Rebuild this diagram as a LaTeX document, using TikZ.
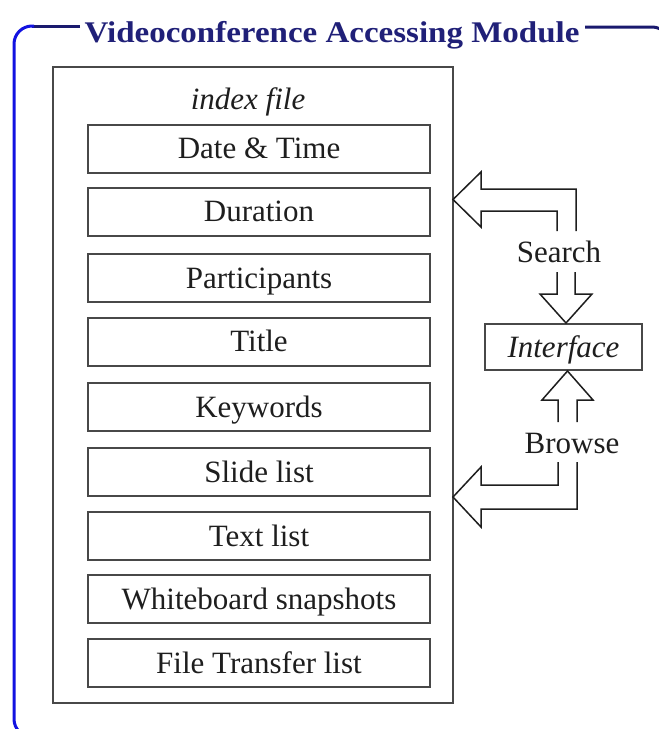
\documentclass[tikz,border=0pt]{standalone}
\usepackage{fontspec}
\setmainfont{Liberation Serif}
\definecolor{framenavy}{RGB}{26,26,110}
\definecolor{frameblue}{RGB}{18,18,225}
\definecolor{titleblue}{RGB}{32,32,120}
\definecolor{boxgray}{RGB}{72,72,72}
\definecolor{inkgray}{RGB}{30,30,30}
\begin{document}
\begin{tikzpicture}[x=1pt,y=-1pt,
  bodytext/.style={font=\fontsize{31}{36}\selectfont, text=inkgray, text height=20pt, text depth=0pt, inner sep=0pt},
  field/.style={bodytext, draw=boxgray, line width=2pt, minimum width=342pt, minimum height=48pt},
  container/.style={draw=boxgray, line width=2pt, minimum width=400pt, minimum height=636pt, inner sep=0pt},
  blockarrow/.style={draw=inkgray, line width=1.5pt, line join=miter},
  modframe/.style={line width=3pt}]

\useasboundingbox (0,0) rectangle (659,729);
\clip (0,0) rectangle (659,729);

% module frame: rounded border broken by the title
\draw[modframe, framenavy] (80,26) -- (32,26);
\draw[modframe, frameblue, rounded corners=18pt] (34,26) -- (14,26) -- (14,737) -- (40,737);
\draw[modframe, framenavy, rounded corners=18pt] (585,27) -- (670,27) -- (670,760);
\node[font=\fontsize{30}{34}\selectfont\bfseries, text=titleblue, text height=20pt, text depth=0pt, inner sep=0pt]
  (title) at (332,32) {\scalebox{1.1}[1]{Videoconference Accessing Module}};

% index file and its fields
\node[container] (index) at (253,385) {};
\node[bodytext, font=\fontsize{31}{36}\selectfont\itshape] (idxlabel) at (248,99) {index file};

\node[field] (date)    at (259,148.5) {Date \& Time};
\node[field] (dur)     at (259,211.5) {Duration};
\node[field] (part)    at (259,278)   {Participants};
\node[field] (ttl)     at (259,341.5) {Title};
\node[field] (keyw)    at (259,407)   {Keywords};
\node[field] (slides)  at (259,472)   {Slide list};
\node[field] (texts)   at (259,536)   {Text list};
\node[field] (wboard)  at (259,599)   {Whiteboard snapshots};
\node[field] (ftrans)  at (259,663)   {File Transfer list};

% interface and its two access modes
\node[bodytext, font=\fontsize{31}{36}\selectfont\itshape, draw=boxgray, line width=2pt,
  minimum width=157pt, minimum height=46pt] (iface) at (563.5,347) {Interface};
\node[bodytext] (search) at (559,252) {Search};
\node[bodytext] (browse) at (572,443) {Browse};

% hollow elbow arrow: search -> index file
\draw[blockarrow] (557,231) -- (557,211) -- (481,211) -- (481,227) -- (453,199.5)
  -- (481,172) -- (481,189) -- (576,189) -- (576,231);
% hollow arrow: search -> interface
\draw[blockarrow] (557,272) -- (557,294) -- (540,294) -- (566,323) -- (592,294)
  -- (575,294) -- (575,272);
% hollow arrow: browse -> interface
\draw[blockarrow] (558,422) -- (558,400) -- (542,400) -- (567.5,371) -- (593,400)
  -- (577,400) -- (577,422);
% hollow elbow arrow: browse -> index file
\draw[blockarrow] (558,462) -- (558,485) -- (481,485) -- (481,467) -- (453,497)
  -- (481,527) -- (481,509) -- (577,509) -- (577,462);
\end{tikzpicture}
\end{document}
